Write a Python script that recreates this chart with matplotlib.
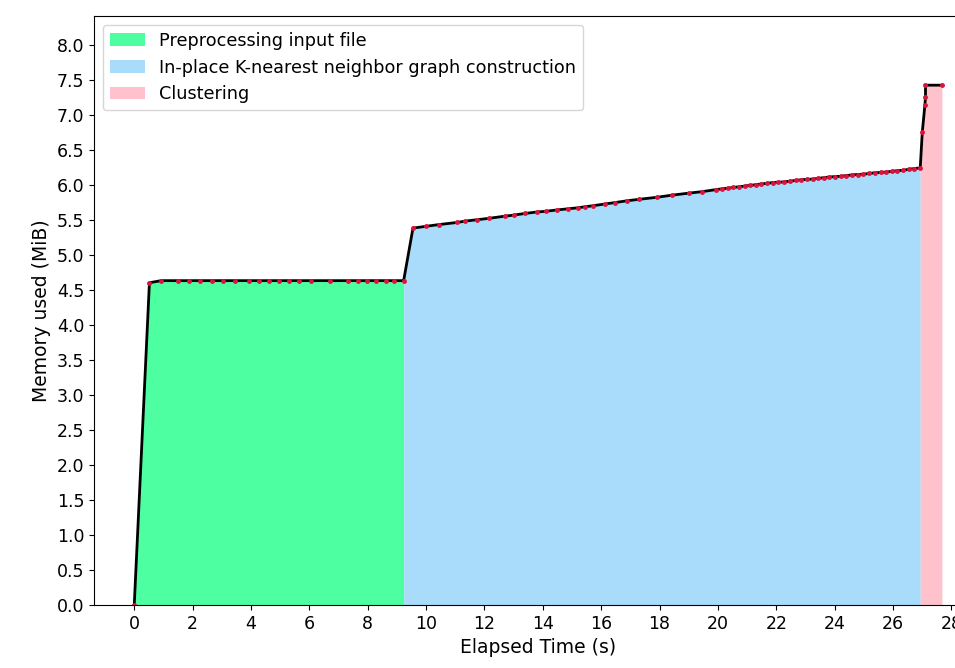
import numpy as np
import matplotlib
matplotlib.use('Agg')
import matplotlib.pyplot as plt

# phase 1: preprocessing input file
t_pre = [0.0, 0.52, 0.92, 1.50, 1.87, 2.26, 2.66, 3.04, 3.44, 3.92, 4.26, 4.62,
         4.97, 5.31, 5.65, 6.06, 6.69, 7.34, 7.66, 7.97, 8.29, 8.61, 8.91, 9.23]
m_pre = [0.0, 4.60, 4.63, 4.63, 4.63, 4.63, 4.63, 4.63, 4.63, 4.63, 4.63, 4.63,
         4.63, 4.63, 4.63, 4.63, 4.63, 4.63, 4.63, 4.63, 4.63, 4.63, 4.63, 4.63]

# phase 2: knn graph construction
t_knn = [9.55, 9.99, 10.43, 11.05, 11.34, 11.76, 12.16, 12.69, 13.00, 13.40,
         13.80, 14.10, 14.50, 14.85, 15.20, 15.45, 15.73, 16.14, 16.48, 16.88,
         17.28, 17.91, 18.42, 19.02, 19.45, 19.94,
         20.13, 20.33, 20.52, 20.72, 20.91, 21.10, 21.30, 21.49, 21.69, 21.88,
         22.07, 22.27, 22.46, 22.66, 22.85, 23.04, 23.24, 23.43, 23.63, 23.82,
         24.01, 24.21, 24.40, 24.60, 24.79, 24.98, 25.18, 25.37, 25.57, 25.76,
         25.95, 26.15, 26.34, 26.54, 26.73, 26.93]
m_knn = [5.38, 5.405, 5.43, 5.46, 5.48, 5.50, 5.52, 5.55, 5.565, 5.59,
         5.61, 5.62, 5.64, 5.655, 5.67, 5.685, 5.70, 5.725, 5.745, 5.77,
         5.79, 5.82, 5.85, 5.88, 5.90, 5.93,
         5.94, 5.95, 5.96, 5.97, 5.98, 5.99, 6.00, 6.01, 6.02, 6.03,
         6.035, 6.04, 6.05, 6.06, 6.07, 6.075, 6.08, 6.09, 6.10, 6.11,
         6.115, 6.12, 6.13, 6.14, 6.145, 6.15, 6.16, 6.17, 6.175, 6.18,
         6.19, 6.20, 6.205, 6.22, 6.23, 6.24]

# phase 3: clustering
t_clu = [27.00, 27.09, 27.11, 27.11, 27.67]
m_clu = [6.75, 7.14, 7.25, 7.42, 7.42]

labels = ['Preprocessing input file',
          'In-place K-nearest neighbor graph construction',
          'Clustering']
colors = ['#4dffa1', '#a9dcfa', '#ffc2cc']

t_all = t_pre + t_knn + t_clu
m_all = m_pre + m_knn + m_clu

fig = plt.figure(figsize=(9.55, 6.68), dpi=100)
ax = fig.add_axes([0.0984, 0.0943, 0.93, 0.882])

# each phase is filled from the last point of the previous one
ax.fill_between(t_pre, m_pre, color=colors[0], label=labels[0], lw=0)
ax.fill_between([t_pre[-1]] + t_knn, [m_pre[-1]] + m_knn, color=colors[1], label=labels[1], lw=0)
ax.fill_between([t_knn[-1]] + t_clu, [m_knn[-1]] + m_clu, color=colors[2], label=labels[2], lw=0)

ax.plot(t_all, m_all, color='black', lw=2)
ax.plot(t_all, m_all, 'o', color='crimson', ms=2.5, ls='none')

ax.set_xlim(-1.38, 29.05)
ax.set_ylim(0, 8.41)
ax.set_xticks(np.arange(0, 29, 2))
ax.set_yticks(np.arange(0, 8.01, 0.5))
ax.yaxis.set_major_formatter(matplotlib.ticker.FormatStrFormatter('%.1f'))
ax.tick_params(labelsize=12.5)
ax.set_xlabel('Elapsed Time (s)', fontsize=13.5)
ax.set_ylabel('Memory used (MiB)', fontsize=13.5)
ax.legend(loc='upper left', fontsize=12.7)

fig.savefig('out.png', dpi=100)
